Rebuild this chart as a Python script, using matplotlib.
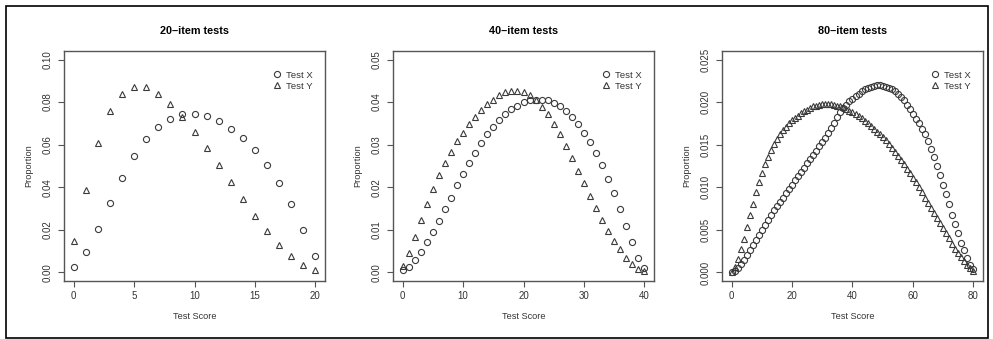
import matplotlib
matplotlib.use("Agg")
import matplotlib.pyplot as plt
from matplotlib.patches import Rectangle

plt.rcParams['font.family'] = ['Liberation Sans', 'DejaVu Sans']

# 20-item tests
scores_20 = list(range(21))
x_20 = [0.0028, 0.0098, 0.0202, 0.0324, 0.0444, 0.0546, 0.0628, 0.0685, 0.0723, 0.0743,
        0.0745, 0.0735, 0.0712, 0.0676, 0.0631, 0.0573, 0.0504, 0.0420, 0.0320, 0.0198,
        0.0079]
y_20 = [0.0150, 0.0387, 0.0606, 0.0757, 0.0839, 0.0872, 0.0869, 0.0839, 0.0789, 0.0729,
        0.0661, 0.0586, 0.0506, 0.0425, 0.0345, 0.0265, 0.0194, 0.0129, 0.0076, 0.0036,
        0.0013]

# 40-item tests
scores_40 = list(range(41))
x_40 = [0.0005, 0.0013, 0.0029, 0.0048, 0.0071, 0.0096, 0.0120, 0.0149, 0.0176, 0.0205,
        0.0231, 0.0257, 0.0281, 0.0304, 0.0324, 0.0341, 0.0359, 0.0372, 0.0383, 0.0392,
        0.0400, 0.0404, 0.0406, 0.0406, 0.0404, 0.0399, 0.0391, 0.0380, 0.0365, 0.0349,
        0.0328, 0.0306, 0.0281, 0.0252, 0.0220, 0.0186, 0.0149, 0.0109, 0.0072, 0.0035,
        0.0011]
y_40 = [0.0016, 0.0045, 0.0083, 0.0123, 0.0161, 0.0197, 0.0229, 0.0258, 0.0283, 0.0308,
        0.0328, 0.0349, 0.0366, 0.0382, 0.0395, 0.0406, 0.0416, 0.0423, 0.0427, 0.0427,
        0.0423, 0.0416, 0.0405, 0.0389, 0.0371, 0.0349, 0.0324, 0.0297, 0.0269, 0.0239,
        0.0209, 0.0180, 0.0151, 0.0123, 0.0097, 0.0074, 0.0054, 0.0035, 0.0020, 0.0009,
        0.0004]

# 80-item tests
scores_80 = list(range(81))
x_80 = [0.0000, 0.0002, 0.0005, 0.0010, 0.0015, 0.0020, 0.0026, 0.0032, 0.0038, 0.0044,
        0.0050, 0.0056, 0.0062, 0.0068, 0.0073, 0.0078, 0.0083, 0.0088, 0.0093, 0.0098,
        0.0103, 0.0108, 0.0113, 0.0118, 0.0123, 0.0128, 0.0133, 0.0138, 0.0143, 0.0148,
        0.0153, 0.0158, 0.0164, 0.0170, 0.0176, 0.0182, 0.0188, 0.0193, 0.0197, 0.0201,
        0.0204, 0.0207, 0.0210, 0.0213, 0.0215, 0.0217, 0.0218, 0.0219, 0.0220, 0.0220,
        0.0219, 0.0218, 0.0217, 0.0215, 0.0213, 0.0210, 0.0206, 0.0202, 0.0197, 0.0192,
        0.0186, 0.0180, 0.0175, 0.0169, 0.0162, 0.0154, 0.0145, 0.0135, 0.0125, 0.0114,
        0.0103, 0.0092, 0.0080, 0.0068, 0.0057, 0.0046, 0.0035, 0.0026, 0.0017, 0.0009,
        0.0004]
y_80 = [0.0001, 0.0006, 0.0016, 0.0027, 0.0039, 0.0053, 0.0067, 0.0080, 0.0094, 0.0106,
        0.0117, 0.0127, 0.0136, 0.0144, 0.0151, 0.0157, 0.0162, 0.0167, 0.0171, 0.0175,
        0.0179, 0.0181, 0.0184, 0.0187, 0.0189, 0.0191, 0.0193, 0.0195, 0.0196, 0.0197,
        0.0198, 0.0198, 0.0198, 0.0198, 0.0197, 0.0196, 0.0195, 0.0194, 0.0192, 0.0190,
        0.0188, 0.0186, 0.0184, 0.0181, 0.0178, 0.0175, 0.0172, 0.0169, 0.0165, 0.0162,
        0.0159, 0.0155, 0.0151, 0.0146, 0.0142, 0.0137, 0.0132, 0.0127, 0.0122, 0.0117,
        0.0111, 0.0106, 0.0100, 0.0094, 0.0088, 0.0082, 0.0076, 0.0070, 0.0064, 0.0058,
        0.0052, 0.0046, 0.0040, 0.0034, 0.0028, 0.0023, 0.0018, 0.0013, 0.0009, 0.0005,
        0.0002]

panels = [
    ("20\u2013item tests", scores_20, x_20, y_20, 20, 0.10, [0, 5, 10, 15, 20],
     [0.00, 0.02, 0.04, 0.06, 0.08, 0.10], "%.2f"),
    ("40\u2013item tests", scores_40, x_40, y_40, 40, 0.05, [0, 10, 20, 30, 40],
     [0.00, 0.01, 0.02, 0.03, 0.04, 0.05], "%.2f"),
    ("80\u2013item tests", scores_80, x_80, y_80, 80, 0.025, [0, 20, 40, 60, 80],
     [0.000, 0.005, 0.010, 0.015, 0.020, 0.025], "%.3f"),
]

fig = plt.figure(figsize=(9.93, 3.39), dpi=100)
fig.patches.append(Rectangle((6 / 993, 1 / 339), 982 / 993, 332 / 339,
                             transform=fig.transFigure, fill=False,
                             edgecolor='black', linewidth=1.2))

lefts = [64, 393, 722]
edge = '#3a3a3a'
for left, (title, s, xv, yv, xmax, ymax, xt, yt, fmt) in zip(lefts, panels):
    ax = fig.add_axes([left / 993, 58 / 339, 261 / 993, 230 / 339])
    ax.plot(s, xv, linestyle='none', marker='o', markersize=4.4, markerfacecolor='none',
            markeredgecolor=edge, markeredgewidth=0.8, label='Test X')
    ax.plot(s, yv, linestyle='none', marker='^', markersize=4.7, markerfacecolor='none',
            markeredgecolor=edge, markeredgewidth=0.8, label='Test Y')
    ax.set_xlim(-0.04 * xmax, 1.04 * xmax)
    ax.set_ylim(-0.04 * ymax, 1.04 * ymax)
    ax.set_xticks(xt)
    ax.set_yticks(yt)
    ax.set_yticklabels([fmt % v for v in yt], rotation=90, va='center')
    ax.tick_params(direction='out', length=4, width=0.8, colors='#555555',
                   labelcolor='#333333', labelsize=7)
    ax.tick_params(axis='y', pad=4)
    ax.tick_params(axis='x', pad=3)
    for sp in ax.spines.values():
        sp.set_color('#555555')
        sp.set_linewidth(1.0)
    ax.set_title(title, fontsize=7.8, fontweight='bold', pad=12)
    ax.set_xlabel('Test Score', fontsize=6.6, color='#333333', labelpad=8)
    ax.set_ylabel('Proportion', fontsize=6.6, color='#333333', labelpad=7)
    ax.legend(loc='upper left', bbox_to_anchor=(0.78, 0.935), frameon=False,
              fontsize=6.8, handlelength=1.0, handletextpad=0.4, labelspacing=0.2,
              borderpad=0, labelcolor='#333333')

fig.savefig('out.png', dpi=100)
